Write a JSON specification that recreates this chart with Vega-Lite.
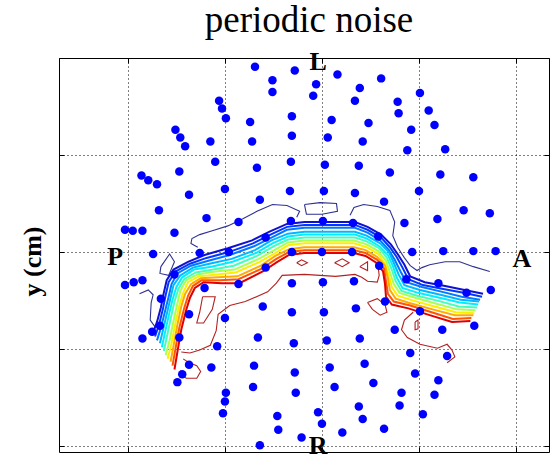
{
"$schema":"https://vega.github.io/schema/vega-lite/v6.json",
"width":490,"height":394,
"autosize":"none",
"padding":{"left":59,"top":58,"right":1,"bottom":8},
"background":"white",
"title":{"text":"periodic noise","font":"Liberation Serif","fontSize":37,"fontWeight":"normal","color":"black","anchor":"middle","baseline":"alphabetic","offset":22,"dx":5,"dy":42},
"config":{"view":{"stroke":"black","strokeWidth":1}},
"datasets":{
"dots":[
{"x":-1.06,"y":1.56},{"x":-1.03,"y":1.48},{"x":-0.99,"y":1.38},{"x":-1.51,"y":1.26},{"x":-1.46,"y":1.18},{"x":-1.41,"y":1.09},{"x":-1.15,"y":1.14},{"x":-1.10,"y":0.93},{"x":-1.47,"y":0.83},{"x":-1.86,"y":0.79},
{"x":-1.79,"y":0.74},{"x":-1.70,"y":0.70},{"x":-1.37,"y":0.59},{"x":-1.00,"y":0.65},{"x":-1.68,"y":0.43},{"x":-1.19,"y":0.35},{"x":-2.03,"y":0.23},{"x":-1.95,"y":0.22},{"x":-1.85,"y":0.22},{"x":-1.52,"y":0.20},
{"x":-1.74,"y":-0.02},{"x":-1.26,"y":-0.01},{"x":-0.69,"y":1.91},{"x":-0.28,"y":1.87},{"x":-0.51,"y":1.77},{"x":-0.51,"y":1.65},{"x":-0.06,"y":1.73},{"x":-0.09,"y":1.61},{"x":0.16,"y":1.83},{"x":0.61,"y":1.79},
{"x":0.39,"y":1.69},{"x":0.34,"y":1.56},{"x":-0.74,"y":1.34},{"x":-0.31,"y":1.40},{"x":0.10,"y":1.36},{"x":0.48,"y":1.33},{"x":-0.72,"y":1.14},{"x":-0.31,"y":1.20},{"x":0.06,"y":1.18},{"x":0.42,"y":1.14},
{"x":-0.67,"y":0.87},{"x":-0.32,"y":0.93},{"x":0.03,"y":0.90},{"x":0.38,"y":0.89},{"x":0.70,"y":0.82},{"x":-0.64,"y":0.54},{"x":-0.33,"y":0.63},{"x":0.02,"y":0.63},{"x":0.34,"y":0.61},{"x":0.64,"y":0.52},
{"x":-0.86,"y":0.31},{"x":-0.32,"y":0.32},{"x":0.01,"y":0.32},{"x":0.32,"y":0.30},{"x":-0.58,"y":0.15},{"x":0.58,"y":0.16},{"x":-0.96,"y":0.00},{"x":-0.31,"y":0.00},{"x":0.00,"y":0.00},{"x":0.31,"y":0.00},
{"x":1.01,"y":1.64},{"x":0.78,"y":1.55},{"x":0.79,"y":1.43},{"x":1.10,"y":1.46},{"x":1.16,"y":1.31},{"x":0.92,"y":1.26},{"x":0.88,"y":1.05},{"x":1.27,"y":1.06},{"x":1.22,"y":0.80},{"x":1.56,"y":0.77},
{"x":1.00,"y":0.63},{"x":1.46,"y":0.43},{"x":1.73,"y":0.40},{"x":0.85,"y":0.30},{"x":1.19,"y":0.34},{"x":0.93,"y":0.00},{"x":1.25,"y":0.01},{"x":1.56,"y":0.01},{"x":1.79,"y":0.01},{"x":-2.03,"y":-0.34},
{"x":-1.94,"y":-0.31},{"x":-1.85,"y":-0.29},{"x":-1.52,"y":-0.23},{"x":-1.21,"y":-0.37},{"x":-1.66,"y":-0.48},{"x":-1.37,"y":-0.64},{"x":-1.00,"y":-0.68},{"x":-1.67,"y":-0.76},{"x":-1.75,"y":-0.82},{"x":-1.85,"y":-0.89},
{"x":-1.47,"y":-0.88},{"x":-1.08,"y":-0.97},{"x":-1.37,"y":-1.16},{"x":-1.14,"y":-1.19},{"x":-1.44,"y":-1.26},{"x":-1.49,"y":-1.34},{"x":-0.99,"y":-1.45},{"x":-1.00,"y":-1.54},{"x":-1.02,"y":-1.66},{"x":-0.58,"y":-0.16},
{"x":0.59,"y":-0.14},{"x":-0.86,"y":-0.33},{"x":-0.31,"y":-0.32},{"x":0.01,"y":-0.31},{"x":0.33,"y":-0.30},{"x":0.65,"y":-0.51},{"x":-0.61,"y":-0.56},{"x":-0.31,"y":-0.62},{"x":0.02,"y":-0.62},{"x":0.35,"y":-0.58},
{"x":-0.66,"y":-0.88},{"x":-0.29,"y":-0.94},{"x":0.05,"y":-0.91},{"x":0.39,"y":-0.89},{"x":-0.70,"y":-1.17},{"x":-0.28,"y":-1.24},{"x":0.08,"y":-1.19},{"x":0.44,"y":-1.15},{"x":-0.71,"y":-1.39},{"x":-0.27,"y":-1.45},
{"x":0.13,"y":-1.39},{"x":0.53,"y":-1.35},{"x":-0.46,"y":-1.69},{"x":-0.04,"y":-1.65},{"x":0.38,"y":-1.59},{"x":-0.45,"y":-1.83},{"x":0.00,"y":-1.77},{"x":0.42,"y":-1.72},{"x":0.64,"y":-1.82},{"x":-0.21,"y":-1.91},
{"x":0.21,"y":-1.86},{"x":-0.64,"y":-1.99},{"x":0.87,"y":-0.28},{"x":1.20,"y":-0.32},{"x":1.49,"y":-0.42},{"x":1.74,"y":-0.39},{"x":1.01,"y":-0.61},{"x":0.75,"y":-0.80},{"x":1.24,"y":-0.80},{"x":1.57,"y":-0.76},
{"x":0.91,"y":-1.04},{"x":1.29,"y":-1.07},{"x":0.96,"y":-1.25},{"x":1.20,"y":-1.32},{"x":0.82,"y":-1.45},{"x":1.16,"y":-1.47},{"x":0.80,"y":-1.58},{"x":1.04,"y":-1.67}
],
"band":[
{"lev":1,"i":0,"x":-1.74,"y":-0.83},{"lev":1,"i":1,"x":-1.70,"y":-0.72},{"lev":1,"i":2,"x":-1.66,"y":-0.57},{"lev":1,"i":3,"x":-1.63,"y":-0.42},{"lev":1,"i":4,"x":-1.60,"y":-0.29},{"lev":1,"i":5,"x":-1.53,"y":-0.18},{"lev":1,"i":6,"x":-1.38,"y":-0.10},{"lev":1,"i":7,"x":-1.21,"y":-0.03},{"lev":1,"i":8,"x":-0.97,"y":0.04},{"lev":1,"i":9,"x":-0.72,"y":0.12},{"lev":1,"i":10,"x":-0.54,"y":0.21},{"lev":1,"i":11,"x":-0.36,"y":0.29},{"lev":1,"i":12,"x":-0.18,"y":0.31},{"lev":1,"i":13,"x":0.08,"y":0.31},{"lev":1,"i":14,"x":0.34,"y":0.31},{"lev":1,"i":15,"x":0.47,"y":0.26},{"lev":1,"i":16,"x":0.61,"y":0.18},{"lev":1,"i":17,"x":0.71,"y":0.08},{"lev":1,"i":18,"x":0.78,"y":-0.02},{"lev":1,"i":19,"x":0.85,"y":-0.13},{"lev":1,"i":20,"x":0.91,"y":-0.25},{"lev":1,"i":21,"x":1.06,"y":-0.31},{"lev":1,"i":22,"x":1.27,"y":-0.35},{"lev":1,"i":23,"x":1.47,"y":-0.39},{"lev":1,"i":24,"x":1.66,"y":-0.43},
{"lev":2,"i":0,"x":-1.72,"y":-0.87},{"lev":2,"i":1,"x":-1.68,"y":-0.75},{"lev":2,"i":2,"x":-1.64,"y":-0.59},{"lev":2,"i":3,"x":-1.61,"y":-0.44},{"lev":2,"i":4,"x":-1.58,"y":-0.31},{"lev":2,"i":5,"x":-1.51,"y":-0.20},{"lev":2,"i":6,"x":-1.36,"y":-0.12},{"lev":2,"i":7,"x":-1.19,"y":-0.06},{"lev":2,"i":8,"x":-0.96,"y":0.00},{"lev":2,"i":9,"x":-0.71,"y":0.09},{"lev":2,"i":10,"x":-0.53,"y":0.18},{"lev":2,"i":11,"x":-0.36,"y":0.26},{"lev":2,"i":12,"x":-0.18,"y":0.28},{"lev":2,"i":13,"x":0.08,"y":0.28},{"lev":2,"i":14,"x":0.34,"y":0.28},{"lev":2,"i":15,"x":0.47,"y":0.23},{"lev":2,"i":16,"x":0.61,"y":0.15},{"lev":2,"i":17,"x":0.70,"y":0.05},{"lev":2,"i":18,"x":0.77,"y":-0.05},{"lev":2,"i":19,"x":0.83,"y":-0.16},{"lev":2,"i":20,"x":0.89,"y":-0.28},{"lev":2,"i":21,"x":1.04,"y":-0.34},{"lev":2,"i":22,"x":1.25,"y":-0.38},{"lev":2,"i":23,"x":1.46,"y":-0.42},{"lev":2,"i":24,"x":1.65,"y":-0.46},
{"lev":3,"i":0,"x":-1.70,"y":-0.91},{"lev":3,"i":1,"x":-1.66,"y":-0.78},{"lev":3,"i":2,"x":-1.62,"y":-0.62},{"lev":3,"i":3,"x":-1.58,"y":-0.46},{"lev":3,"i":4,"x":-1.55,"y":-0.33},{"lev":3,"i":5,"x":-1.49,"y":-0.22},{"lev":3,"i":6,"x":-1.35,"y":-0.14},{"lev":3,"i":7,"x":-1.17,"y":-0.09},{"lev":3,"i":8,"x":-0.95,"y":-0.03},{"lev":3,"i":9,"x":-0.70,"y":0.06},{"lev":3,"i":10,"x":-0.52,"y":0.15},{"lev":3,"i":11,"x":-0.36,"y":0.23},{"lev":3,"i":12,"x":-0.18,"y":0.25},{"lev":3,"i":13,"x":0.08,"y":0.25},{"lev":3,"i":14,"x":0.34,"y":0.25},{"lev":3,"i":15,"x":0.47,"y":0.20},{"lev":3,"i":16,"x":0.60,"y":0.12},{"lev":3,"i":17,"x":0.69,"y":0.02},{"lev":3,"i":18,"x":0.75,"y":-0.08},{"lev":3,"i":19,"x":0.81,"y":-0.20},{"lev":3,"i":20,"x":0.87,"y":-0.31},{"lev":3,"i":21,"x":1.03,"y":-0.36},{"lev":3,"i":22,"x":1.24,"y":-0.41},{"lev":3,"i":23,"x":1.44,"y":-0.46},{"lev":3,"i":24,"x":1.63,"y":-0.49},
{"lev":4,"i":0,"x":-1.67,"y":-0.94},{"lev":4,"i":1,"x":-1.64,"y":-0.81},{"lev":4,"i":2,"x":-1.60,"y":-0.64},{"lev":4,"i":3,"x":-1.56,"y":-0.47},{"lev":4,"i":4,"x":-1.53,"y":-0.34},{"lev":4,"i":5,"x":-1.46,"y":-0.24},{"lev":4,"i":6,"x":-1.33,"y":-0.16},{"lev":4,"i":7,"x":-1.16,"y":-0.12},{"lev":4,"i":8,"x":-0.93,"y":-0.07},{"lev":4,"i":9,"x":-0.69,"y":0.02},{"lev":4,"i":10,"x":-0.52,"y":0.12},{"lev":4,"i":11,"x":-0.35,"y":0.19},{"lev":4,"i":12,"x":-0.18,"y":0.21},{"lev":4,"i":13,"x":0.08,"y":0.21},{"lev":4,"i":14,"x":0.34,"y":0.21},{"lev":4,"i":15,"x":0.46,"y":0.17},{"lev":4,"i":16,"x":0.60,"y":0.09},{"lev":4,"i":17,"x":0.69,"y":0.00},{"lev":4,"i":18,"x":0.74,"y":-0.11},{"lev":4,"i":19,"x":0.79,"y":-0.23},{"lev":4,"i":20,"x":0.85,"y":-0.34},{"lev":4,"i":21,"x":1.01,"y":-0.39},{"lev":4,"i":22,"x":1.22,"y":-0.44},{"lev":4,"i":23,"x":1.43,"y":-0.49},{"lev":4,"i":24,"x":1.62,"y":-0.51},
{"lev":5,"i":0,"x":-1.65,"y":-0.98},{"lev":5,"i":1,"x":-1.62,"y":-0.84},{"lev":5,"i":2,"x":-1.58,"y":-0.66},{"lev":5,"i":3,"x":-1.54,"y":-0.49},{"lev":5,"i":4,"x":-1.50,"y":-0.36},{"lev":5,"i":5,"x":-1.44,"y":-0.26},{"lev":5,"i":6,"x":-1.32,"y":-0.18},{"lev":5,"i":7,"x":-1.14,"y":-0.15},{"lev":5,"i":8,"x":-0.92,"y":-0.10},{"lev":5,"i":9,"x":-0.68,"y":-0.01},{"lev":5,"i":10,"x":-0.51,"y":0.09},{"lev":5,"i":11,"x":-0.35,"y":0.16},{"lev":5,"i":12,"x":-0.18,"y":0.18},{"lev":5,"i":13,"x":0.08,"y":0.18},{"lev":5,"i":14,"x":0.34,"y":0.18},{"lev":5,"i":15,"x":0.46,"y":0.14},{"lev":5,"i":16,"x":0.59,"y":0.06},{"lev":5,"i":17,"x":0.68,"y":-0.03},{"lev":5,"i":18,"x":0.73,"y":-0.14},{"lev":5,"i":19,"x":0.77,"y":-0.26},{"lev":5,"i":20,"x":0.83,"y":-0.37},{"lev":5,"i":21,"x":0.99,"y":-0.42},{"lev":5,"i":22,"x":1.21,"y":-0.47},{"lev":5,"i":23,"x":1.42,"y":-0.52},{"lev":5,"i":24,"x":1.61,"y":-0.54},
{"lev":6,"i":0,"x":-1.63,"y":-1.02},{"lev":6,"i":1,"x":-1.60,"y":-0.88},{"lev":6,"i":2,"x":-1.56,"y":-0.69},{"lev":6,"i":3,"x":-1.52,"y":-0.51},{"lev":6,"i":4,"x":-1.48,"y":-0.38},{"lev":6,"i":5,"x":-1.42,"y":-0.28},{"lev":6,"i":6,"x":-1.30,"y":-0.21},{"lev":6,"i":7,"x":-1.12,"y":-0.18},{"lev":6,"i":8,"x":-0.91,"y":-0.14},{"lev":6,"i":9,"x":-0.67,"y":-0.04},{"lev":6,"i":10,"x":-0.50,"y":0.06},{"lev":6,"i":11,"x":-0.35,"y":0.13},{"lev":6,"i":12,"x":-0.18,"y":0.15},{"lev":6,"i":13,"x":0.08,"y":0.15},{"lev":6,"i":14,"x":0.34,"y":0.15},{"lev":6,"i":15,"x":0.46,"y":0.11},{"lev":6,"i":16,"x":0.59,"y":0.04},{"lev":6,"i":17,"x":0.67,"y":-0.06},{"lev":6,"i":18,"x":0.72,"y":-0.18},{"lev":6,"i":19,"x":0.76,"y":-0.30},{"lev":6,"i":20,"x":0.82,"y":-0.40},{"lev":6,"i":21,"x":0.98,"y":-0.45},{"lev":6,"i":22,"x":1.19,"y":-0.50},{"lev":6,"i":23,"x":1.41,"y":-0.56},{"lev":6,"i":24,"x":1.60,"y":-0.57},
{"lev":7,"i":0,"x":-1.61,"y":-1.06},{"lev":7,"i":1,"x":-1.57,"y":-0.91},{"lev":7,"i":2,"x":-1.53,"y":-0.71},{"lev":7,"i":3,"x":-1.49,"y":-0.53},{"lev":7,"i":4,"x":-1.46,"y":-0.40},{"lev":7,"i":5,"x":-1.40,"y":-0.29},{"lev":7,"i":6,"x":-1.28,"y":-0.23},{"lev":7,"i":7,"x":-1.10,"y":-0.20},{"lev":7,"i":8,"x":-0.90,"y":-0.18},{"lev":7,"i":9,"x":-0.65,"y":-0.07},{"lev":7,"i":10,"x":-0.49,"y":0.02},{"lev":7,"i":11,"x":-0.35,"y":0.10},{"lev":7,"i":12,"x":-0.18,"y":0.12},{"lev":7,"i":13,"x":0.08,"y":0.12},{"lev":7,"i":14,"x":0.33,"y":0.12},{"lev":7,"i":15,"x":0.46,"y":0.08},{"lev":7,"i":16,"x":0.58,"y":0.01},{"lev":7,"i":17,"x":0.66,"y":-0.09},{"lev":7,"i":18,"x":0.70,"y":-0.21},{"lev":7,"i":19,"x":0.74,"y":-0.33},{"lev":7,"i":20,"x":0.80,"y":-0.42},{"lev":7,"i":21,"x":0.96,"y":-0.47},{"lev":7,"i":22,"x":1.17,"y":-0.53},{"lev":7,"i":23,"x":1.39,"y":-0.59},{"lev":7,"i":24,"x":1.58,"y":-0.60},
{"lev":8,"i":0,"x":-1.59,"y":-1.10},{"lev":8,"i":1,"x":-1.55,"y":-0.94},{"lev":8,"i":2,"x":-1.51,"y":-0.73},{"lev":8,"i":3,"x":-1.47,"y":-0.55},{"lev":8,"i":4,"x":-1.43,"y":-0.42},{"lev":8,"i":5,"x":-1.38,"y":-0.31},{"lev":8,"i":6,"x":-1.27,"y":-0.25},{"lev":8,"i":7,"x":-1.08,"y":-0.23},{"lev":8,"i":8,"x":-0.89,"y":-0.21},{"lev":8,"i":9,"x":-0.64,"y":-0.10},{"lev":8,"i":10,"x":-0.48,"y":-0.01},{"lev":8,"i":11,"x":-0.35,"y":0.07},{"lev":8,"i":12,"x":-0.18,"y":0.09},{"lev":8,"i":13,"x":0.08,"y":0.09},{"lev":8,"i":14,"x":0.33,"y":0.09},{"lev":8,"i":15,"x":0.46,"y":0.05},{"lev":8,"i":16,"x":0.58,"y":-0.02},{"lev":8,"i":17,"x":0.65,"y":-0.12},{"lev":8,"i":18,"x":0.69,"y":-0.24},{"lev":8,"i":19,"x":0.72,"y":-0.36},{"lev":8,"i":20,"x":0.78,"y":-0.45},{"lev":8,"i":21,"x":0.94,"y":-0.50},{"lev":8,"i":22,"x":1.16,"y":-0.56},{"lev":8,"i":23,"x":1.38,"y":-0.62},{"lev":8,"i":24,"x":1.57,"y":-0.63},
{"lev":9,"i":0,"x":-1.56,"y":-1.13},{"lev":9,"i":1,"x":-1.53,"y":-0.97},{"lev":9,"i":2,"x":-1.49,"y":-0.75},{"lev":9,"i":3,"x":-1.45,"y":-0.56},{"lev":9,"i":4,"x":-1.41,"y":-0.43},{"lev":9,"i":5,"x":-1.35,"y":-0.33},{"lev":9,"i":6,"x":-1.25,"y":-0.27},{"lev":9,"i":7,"x":-1.07,"y":-0.26},{"lev":9,"i":8,"x":-0.87,"y":-0.25},{"lev":9,"i":9,"x":-0.63,"y":-0.14},{"lev":9,"i":10,"x":-0.48,"y":-0.04},{"lev":9,"i":11,"x":-0.34,"y":0.03},{"lev":9,"i":12,"x":-0.18,"y":0.05},{"lev":9,"i":13,"x":0.08,"y":0.05},{"lev":9,"i":14,"x":0.33,"y":0.05},{"lev":9,"i":15,"x":0.45,"y":0.02},{"lev":9,"i":16,"x":0.57,"y":-0.05},{"lev":9,"i":17,"x":0.65,"y":-0.14},{"lev":9,"i":18,"x":0.68,"y":-0.27},{"lev":9,"i":19,"x":0.70,"y":-0.39},{"lev":9,"i":20,"x":0.76,"y":-0.48},{"lev":9,"i":21,"x":0.92,"y":-0.53},{"lev":9,"i":22,"x":1.14,"y":-0.59},{"lev":9,"i":23,"x":1.37,"y":-0.65},{"lev":9,"i":24,"x":1.56,"y":-0.65},
{"lev":10,"i":0,"x":-1.54,"y":-1.17},{"lev":10,"i":1,"x":-1.51,"y":-1.00},{"lev":10,"i":2,"x":-1.47,"y":-0.78},{"lev":10,"i":3,"x":-1.42,"y":-0.58},{"lev":10,"i":4,"x":-1.38,"y":-0.45},{"lev":10,"i":5,"x":-1.33,"y":-0.35},{"lev":10,"i":6,"x":-1.24,"y":-0.29},{"lev":10,"i":7,"x":-1.05,"y":-0.29},{"lev":10,"i":8,"x":-0.86,"y":-0.28},{"lev":10,"i":9,"x":-0.62,"y":-0.17},{"lev":10,"i":10,"x":-0.47,"y":-0.07},{"lev":10,"i":11,"x":-0.34,"y":0.00},{"lev":10,"i":12,"x":-0.18,"y":0.02},{"lev":10,"i":13,"x":0.08,"y":0.02},{"lev":10,"i":14,"x":0.33,"y":0.02},{"lev":10,"i":15,"x":0.45,"y":-0.01},{"lev":10,"i":16,"x":0.57,"y":-0.08},{"lev":10,"i":17,"x":0.64,"y":-0.17},{"lev":10,"i":18,"x":0.66,"y":-0.30},{"lev":10,"i":19,"x":0.68,"y":-0.43},{"lev":10,"i":20,"x":0.74,"y":-0.51},{"lev":10,"i":21,"x":0.91,"y":-0.55},{"lev":10,"i":22,"x":1.13,"y":-0.62},{"lev":10,"i":23,"x":1.35,"y":-0.69},{"lev":10,"i":24,"x":1.54,"y":-0.68},
{"lev":11,"i":0,"x":-1.52,"y":-1.21},{"lev":11,"i":1,"x":-1.49,"y":-1.03},{"lev":11,"i":2,"x":-1.45,"y":-0.80},{"lev":11,"i":3,"x":-1.40,"y":-0.60},{"lev":11,"i":4,"x":-1.36,"y":-0.47},{"lev":11,"i":5,"x":-1.31,"y":-0.37},{"lev":11,"i":6,"x":-1.22,"y":-0.31},{"lev":11,"i":7,"x":-1.03,"y":-0.32},{"lev":11,"i":8,"x":-0.85,"y":-0.32},{"lev":11,"i":9,"x":-0.61,"y":-0.20},{"lev":11,"i":10,"x":-0.46,"y":-0.10},{"lev":11,"i":11,"x":-0.34,"y":-0.03},{"lev":11,"i":12,"x":-0.18,"y":-0.01},{"lev":11,"i":13,"x":0.08,"y":-0.01},{"lev":11,"i":14,"x":0.33,"y":-0.01},{"lev":11,"i":15,"x":0.45,"y":-0.04},{"lev":11,"i":16,"x":0.56,"y":-0.11},{"lev":11,"i":17,"x":0.63,"y":-0.20},{"lev":11,"i":18,"x":0.65,"y":-0.33},{"lev":11,"i":19,"x":0.66,"y":-0.46},{"lev":11,"i":20,"x":0.72,"y":-0.54},{"lev":11,"i":21,"x":0.89,"y":-0.58},{"lev":11,"i":22,"x":1.11,"y":-0.65},{"lev":11,"i":23,"x":1.34,"y":-0.72},{"lev":11,"i":24,"x":1.53,"y":-0.71}
],
"wig":[
{"seg":"w1","lev":0,"i":0,"x":-1.88,"y":-0.43},{"seg":"w1","lev":0,"i":1,"x":-1.79,"y":-0.39},{"seg":"w1","lev":0,"i":2,"x":-1.74,"y":-0.44},{"seg":"w1","lev":0,"i":3,"x":-1.76,"y":-0.52},{"seg":"w1","lev":0,"i":4,"x":-1.77,"y":-0.70},{"seg":"w1","lev":0,"i":5,"x":-1.72,"y":-0.77},
{"seg":"w2","lev":0,"i":0,"x":-1.66,"y":-0.15},{"seg":"w2","lev":0,"i":1,"x":-1.57,"y":-0.02},{"seg":"w2","lev":0,"i":2,"x":-1.52,"y":-0.10},{"seg":"w2","lev":0,"i":3,"x":-1.58,"y":-0.24},{"seg":"w2","lev":0,"i":4,"x":-1.67,"y":-0.22},{"seg":"w2","lev":0,"i":5,"x":-1.66,"y":-0.15},
{"seg":"w3","lev":0,"i":0,"x":-1.28,"y":0.05},{"seg":"w3","lev":0,"i":1,"x":-1.35,"y":0.09},{"seg":"w3","lev":0,"i":2,"x":-1.34,"y":0.14},{"seg":"w3","lev":0,"i":3,"x":-1.26,"y":0.18},{"seg":"w3","lev":0,"i":4,"x":-1.13,"y":0.22},{"seg":"w3","lev":0,"i":5,"x":-0.97,"y":0.27},{"seg":"w3","lev":0,"i":6,"x":-0.82,"y":0.34},{"seg":"w3","lev":0,"i":7,"x":-0.67,"y":0.42},{"seg":"w3","lev":0,"i":8,"x":-0.51,"y":0.49},{"seg":"w3","lev":0,"i":9,"x":-0.36,"y":0.48},{"seg":"w3","lev":0,"i":10,"x":-0.23,"y":0.42},{"seg":"w3","lev":0,"i":11,"x":-0.26,"y":0.36},
{"seg":"w4","lev":0,"i":0,"x":-0.18,"y":0.49},{"seg":"w4","lev":0,"i":1,"x":-0.02,"y":0.51},{"seg":"w4","lev":0,"i":2,"x":0.15,"y":0.50},{"seg":"w4","lev":0,"i":3,"x":0.16,"y":0.42},{"seg":"w4","lev":0,"i":4,"x":0.00,"y":0.39},{"seg":"w4","lev":0,"i":5,"x":-0.16,"y":0.39},{"seg":"w4","lev":0,"i":6,"x":-0.18,"y":0.49},
{"seg":"w5","lev":0,"i":0,"x":0.29,"y":0.38},{"seg":"w5","lev":0,"i":1,"x":0.33,"y":0.46},{"seg":"w5","lev":0,"i":2,"x":0.43,"y":0.49},{"seg":"w5","lev":0,"i":3,"x":0.57,"y":0.47},{"seg":"w5","lev":0,"i":4,"x":0.70,"y":0.43},{"seg":"w5","lev":0,"i":5,"x":0.75,"y":0.31},{"seg":"w5","lev":0,"i":6,"x":0.73,"y":0.17},{"seg":"w5","lev":0,"i":7,"x":0.78,"y":0.05},{"seg":"w5","lev":0,"i":8,"x":0.85,"y":-0.06},{"seg":"w5","lev":0,"i":9,"x":0.91,"y":-0.14},{"seg":"w5","lev":0,"i":10,"x":0.98,"y":-0.19},{"seg":"w5","lev":0,"i":11,"x":1.03,"y":-0.16},{"seg":"w5","lev":0,"i":12,"x":1.11,"y":-0.13},{"seg":"w5","lev":0,"i":13,"x":1.27,"y":-0.10},{"seg":"w5","lev":0,"i":14,"x":1.42,"y":-0.10},{"seg":"w5","lev":0,"i":15,"x":1.56,"y":-0.15},{"seg":"w5","lev":0,"i":16,"x":1.73,"y":-0.20},
{"seg":"r1","lev":12,"i":0,"x":-1.45,"y":-1.03},{"seg":"r1","lev":12,"i":1,"x":-1.36,"y":-1.04},{"seg":"r1","lev":12,"i":2,"x":-1.26,"y":-1.01},{"seg":"r1","lev":12,"i":3,"x":-1.15,"y":-0.96},{"seg":"r1","lev":12,"i":4,"x":-1.09,"y":-0.81},{"seg":"r1","lev":12,"i":5,"x":-1.07,"y":-0.64},{"seg":"r1","lev":12,"i":6,"x":-0.95,"y":-0.55},{"seg":"r1","lev":12,"i":7,"x":-0.79,"y":-0.51},{"seg":"r1","lev":12,"i":8,"x":-0.56,"y":-0.41},{"seg":"r1","lev":12,"i":9,"x":-0.47,"y":-0.32},{"seg":"r1","lev":12,"i":10,"x":-0.41,"y":-0.24},{"seg":"r1","lev":12,"i":11,"x":-0.18,"y":-0.23},{"seg":"r1","lev":12,"i":12,"x":0.14,"y":-0.25},{"seg":"r1","lev":12,"i":13,"x":0.34,"y":-0.23},{"seg":"r1","lev":12,"i":14,"x":0.41,"y":-0.26},{"seg":"r1","lev":12,"i":15,"x":0.47,"y":-0.30},{"seg":"r1","lev":12,"i":16,"x":0.57,"y":-0.31},{"seg":"r1","lev":12,"i":17,"x":0.59,"y":-0.24},{"seg":"r1","lev":12,"i":18,"x":0.58,"y":-0.16},
{"seg":"r2","lev":12,"i":0,"x":-1.43,"y":-1.10},{"seg":"r2","lev":12,"i":1,"x":-1.37,"y":-1.14},{"seg":"r2","lev":12,"i":2,"x":-1.29,"y":-1.17},{"seg":"r2","lev":12,"i":3,"x":-1.25,"y":-1.23},{"seg":"r2","lev":12,"i":4,"x":-1.29,"y":-1.30},{"seg":"r2","lev":12,"i":5,"x":-1.40,"y":-1.30},{"seg":"r2","lev":12,"i":6,"x":-1.46,"y":-1.22},
{"seg":"r3","lev":12,"i":0,"x":-1.23,"y":-0.46},{"seg":"r3","lev":12,"i":1,"x":-1.10,"y":-0.46},{"seg":"r3","lev":12,"i":2,"x":-1.13,"y":-0.59},{"seg":"r3","lev":12,"i":3,"x":-1.22,"y":-0.73},{"seg":"r3","lev":12,"i":4,"x":-1.29,"y":-0.73},{"seg":"r3","lev":12,"i":5,"x":-1.26,"y":-0.62},{"seg":"r3","lev":12,"i":6,"x":-1.23,"y":-0.46},
{"seg":"r4","lev":12,"i":0,"x":0.47,"y":-0.52},{"seg":"r4","lev":12,"i":1,"x":0.57,"y":-0.48},{"seg":"r4","lev":12,"i":2,"x":0.65,"y":-0.54},{"seg":"r4","lev":12,"i":3,"x":0.67,"y":-0.62},{"seg":"r4","lev":12,"i":4,"x":0.60,"y":-0.65},{"seg":"r4","lev":12,"i":5,"x":0.52,"y":-0.59},{"seg":"r4","lev":12,"i":6,"x":0.47,"y":-0.52},
{"seg":"r5","lev":12,"i":0,"x":0.94,"y":-0.62},{"seg":"r5","lev":12,"i":1,"x":0.85,"y":-0.70},{"seg":"r5","lev":12,"i":2,"x":0.82,"y":-0.80},{"seg":"r5","lev":12,"i":3,"x":0.88,"y":-0.88},{"seg":"r5","lev":12,"i":4,"x":1.01,"y":-0.95},{"seg":"r5","lev":12,"i":5,"x":1.19,"y":-0.99},{"seg":"r5","lev":12,"i":6,"x":1.29,"y":-0.95},{"seg":"r5","lev":12,"i":7,"x":1.34,"y":-1.01},{"seg":"r5","lev":12,"i":8,"x":1.37,"y":-1.08},{"seg":"r5","lev":12,"i":9,"x":1.29,"y":-1.14},
{"seg":"r6","lev":12,"i":0,"x":0.96,"y":-0.72},{"seg":"r6","lev":12,"i":1,"x":0.99,"y":-0.70},{"seg":"r6","lev":12,"i":2,"x":0.99,"y":-0.79},{"seg":"r6","lev":12,"i":3,"x":0.96,"y":-0.80},{"seg":"r6","lev":12,"i":4,"x":0.96,"y":-0.72},
{"seg":"d1","lev":12,"i":0,"x":-0.26,"y":-0.11},{"seg":"d1","lev":12,"i":1,"x":-0.21,"y":-0.08},{"seg":"d1","lev":12,"i":2,"x":-0.15,"y":-0.11},{"seg":"d1","lev":12,"i":3,"x":-0.21,"y":-0.14},{"seg":"d1","lev":12,"i":4,"x":-0.26,"y":-0.11},
{"seg":"d2","lev":12,"i":0,"x":0.13,"y":-0.11},{"seg":"d2","lev":12,"i":1,"x":0.21,"y":-0.07},{"seg":"d2","lev":12,"i":2,"x":0.28,"y":-0.11},{"seg":"d2","lev":12,"i":3,"x":0.21,"y":-0.15},{"seg":"d2","lev":12,"i":4,"x":0.13,"y":-0.11},
{"seg":"d3","lev":12,"i":0,"x":0.39,"y":-0.15},{"seg":"d3","lev":12,"i":1,"x":0.47,"y":-0.10},{"seg":"d3","lev":12,"i":2,"x":0.47,"y":-0.19},{"seg":"d3","lev":12,"i":3,"x":0.39,"y":-0.15}
],
"lab":[{"t":"L","x":-0.04,"y":1.96},{"t":"R","x":-0.04,"y":-2.0},{"t":"P","x":-2.13,"y":-0.05},{"t":"A","x":2.06,"y":-0.07}]
},
"layer":[
{"data":{"name":"wig"},
 "mark":{"type":"line","strokeWidth":1.1,"clip":true},
 "encoding":{
  "x":{"field":"x","type":"quantitative","scale":{"domain":[-2.71,2.34],"nice":false,"zero":false},
       "axis":{"orient":"bottom","values":[-2,-1,0,1,2],"labels":false,"domain":false,"ticks":true,"tickSize":-5,"tickColor":"black","tickWidth":1,"grid":true,"gridColor":"black","gridDash":[1,3],"gridOpacity":1,"gridWidth":1,"title":null}},
  "y":{"field":"y","type":"quantitative","scale":{"domain":[-2.06,2.0],"nice":false,"zero":false},
       "axis":{"orient":"left","values":[-2,-1,0,1,2],"labels":false,"domain":false,"ticks":true,"tickSize":-5,"tickColor":"black","tickWidth":1,"grid":true,"gridColor":"black","gridDash":[1,3],"gridOpacity":1,"gridWidth":1,
               "title":"y (cm)","titleFont":"Liberation Serif","titleFontSize":26,"titleFontWeight":"bold","titleColor":"black","titleAngle":-90,"titleAlign":"center","titleBaseline":"middle","titleX":-27,"titleY":203}},
  "detail":{"field":"seg"},
  "order":{"field":"i","type":"quantitative"},
  "color":{"field":"lev","type":"ordinal","scale":{"domain":[0,1,2,3,4,5,6,7,8,9,10,11,12],"range":["#2e3192","#1010d0","#0038ff","#0078ff","#00b8ff","#00eeff","#44ffbb","#aaff55","#ffee00","#ffaa00","#ff5500","#e00000","#b22222"]},"legend":null}
 }},
{"data":{"name":"band"},
 "mark":{"type":"line","strokeWidth":2,"clip":true},
 "encoding":{
  "x":{"field":"x","type":"quantitative","scale":{"domain":[-2.71,2.34],"nice":false,"zero":false},
       "axis":{"orient":"top","values":[-2,-1,0,1,2],"labels":false,"domain":false,"ticks":true,"tickSize":-5,"tickColor":"black","tickWidth":1,"grid":false,"title":null}},
  "y":{"field":"y","type":"quantitative","scale":{"domain":[-2.06,2.0],"nice":false,"zero":false},
       "axis":{"orient":"right","values":[-2,-1,0,1,2],"labels":false,"domain":false,"ticks":true,"tickSize":-5,"tickColor":"black","tickWidth":1,"grid":false,"title":null}},
  "detail":{"field":"lev"},
  "order":{"field":"i","type":"quantitative"},
  "color":{"field":"lev","type":"ordinal","scale":{"domain":[0,1,2,3,4,5,6,7,8,9,10,11,12],"range":["#2e3192","#1010d0","#0038ff","#0078ff","#00b8ff","#00eeff","#44ffbb","#aaff55","#ffee00","#ffaa00","#ff5500","#e00000","#b22222"]},"legend":null}
 }},
{"data":{"name":"dots"},
 "mark":{"type":"point","shape":"circle","filled":true,"size":72,"color":"#0000ff","opacity":1},
 "encoding":{
  "x":{"field":"x","type":"quantitative","scale":{"domain":[-2.71,2.34],"nice":false,"zero":false},"axis":null},
  "y":{"field":"y","type":"quantitative","scale":{"domain":[-2.06,2.0],"nice":false,"zero":false},"axis":null}
 }},
{"data":{"name":"lab"},
 "mark":{"type":"text","font":"Liberation Serif","fontWeight":"bold","fontSize":26,"color":"black","align":"center","baseline":"middle"},
 "encoding":{
  "x":{"field":"x","type":"quantitative","scale":{"domain":[-2.71,2.34],"nice":false,"zero":false},"axis":null},
  "y":{"field":"y","type":"quantitative","scale":{"domain":[-2.06,2.0],"nice":false,"zero":false},"axis":null},
  "text":{"field":"t"}
 }}
],
"resolve":{"axis":{"x":"independent","y":"independent"}}
}
